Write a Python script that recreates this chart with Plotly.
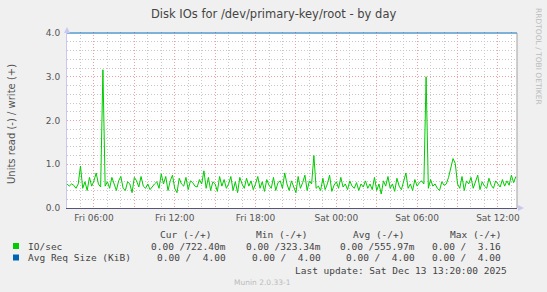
import plotly.graph_objects as go
import pandas as pd

# ---------------- data ----------------
start_time = "2025-12-12 04:00"
step_minutes = 10
io_write = [
    0.55, 0.50, 0.55, 0.52, 0.45, 0.55, 0.96, 0.45, 0.60, 0.40, 0.70, 0.50,
    0.62, 0.80, 0.55, 0.48, 3.16, 0.50, 0.60, 0.45, 0.70, 0.55, 0.40, 0.62,
    0.72, 0.45, 0.40, 0.60, 0.55, 0.35, 0.70, 0.62, 0.48, 0.72, 0.50, 0.45,
    0.55, 0.42, 0.50, 0.55, 0.60, 0.45, 0.78, 0.55, 0.72, 0.40, 0.62, 0.75,
    0.45, 0.35, 0.68, 0.55, 0.50, 0.70, 0.42, 0.62, 0.58, 0.50, 0.48, 0.65,
    0.55, 0.85, 0.45, 0.70, 0.40, 0.60, 0.55, 0.38, 0.72, 0.50, 0.65, 0.45,
    0.55, 0.72, 0.40, 0.60, 0.35, 0.70, 0.55, 0.45, 0.68, 0.50, 0.62, 0.42,
    0.55, 0.72, 0.45, 0.60, 0.38, 0.65, 0.52, 0.45, 0.70, 0.40, 0.58, 0.62,
    0.45, 0.80, 0.55, 0.40, 0.62, 0.50, 0.35, 0.72, 0.45, 0.58, 0.75, 0.40,
    0.62, 0.55, 1.20, 0.45, 0.50, 0.40, 0.68, 0.42, 0.55, 0.75, 0.38, 0.52,
    0.60, 0.45, 0.70, 0.48, 0.55, 0.42, 0.62, 0.50, 0.45, 0.58, 0.40, 0.55,
    0.48, 0.62, 0.45, 0.55, 0.42, 0.70, 0.40, 0.55, 0.32, 0.62, 0.50, 0.72,
    0.45, 0.55, 0.38, 0.68, 0.50, 0.42, 0.60, 0.80, 0.45, 0.55, 0.40, 0.65,
    0.50, 0.58, 0.62, 0.55, 3.00, 0.45, 0.65, 0.50, 0.55, 0.45, 0.40, 0.60,
    0.52, 0.55, 0.70, 0.95, 1.13, 1.02, 0.55, 0.45, 0.72, 0.40, 0.62, 0.55,
    0.70, 0.45, 0.58, 0.75, 0.42, 0.60, 0.50, 0.45, 0.68, 0.52, 0.45, 0.62,
    0.55, 0.48, 0.65, 0.50, 0.62, 0.52, 0.75, 0.58, 0.72,
]
req_size_write = [4.00, 4.00]
req_size_times = ["2025-12-12 04:00", "2025-12-13 13:25"]

x_range = ["2025-12-12 04:00", "2025-12-13 13:25"]
major_ticks = ["2025-12-12 06:00", "2025-12-12 09:00", "2025-12-12 12:00",
               "2025-12-12 15:00", "2025-12-12 18:00", "2025-12-12 21:00",
               "2025-12-13 00:00", "2025-12-13 03:00", "2025-12-13 06:00",
               "2025-12-13 09:00", "2025-12-13 12:00"]
major_labels = ["Fri 06:00", "", "Fri 12:00", "", "Fri 18:00", "",
                "Sat 00:00", "", "Sat 06:00", "", "Sat 12:00"]
y_ticks = [0, 1, 2, 3, 4]
y_labels = ["0.0", "1.0", "2.0", "3.0", "4.0"]

title = "Disk IOs for /dev/primary-key/root - by day"
y_title = "Units read (-) / write (+)"
legend_header = ["Cur (-/+)", "Min (-/+)", "Avg (-/+)", "Max (-/+)"]
legend_names = ["IO/sec", "Avg Req Size (KiB)"]
legend_colors = ["#00CC00", "#0066B3"]
legend_values = [
    ["0.00 /722.40m", "0.00 /323.34m", "0.00 /555.97m", "0.00 /  3.16"],
    ["0.00 /  4.00", "0.00 /  4.00", "0.00 /  4.00", "0.00 /  4.00"],
]
last_update = "Last update: Sat Dec 13 13:20:00 2025"
munin_ver = "Munin 2.0.33-1"
rrd_credit = "RRDTOOL / TOBI OETIKER"

times = pd.date_range(start_time, periods=len(io_write), freq=f"{step_minutes}min")

# ---------------- layout geometry (pixels) ----------------
W, H = 547, 292
L, R, T, B = 67, 30, 32, 84
PW, PH = W - L - R, H - T - B


def px(xp):
    return (xp - L) / PW


def py(yp):
    return (H - B - yp) / PH


fig = go.Figure()
fig.add_trace(go.Scatter(x=times, y=io_write, mode="lines",
                         line=dict(color=legend_colors[0], width=1),
                         hoverinfo="skip", showlegend=False))
fig.add_trace(go.Scatter(x=pd.to_datetime(req_size_times), y=req_size_write, mode="lines",
                         line=dict(color=legend_colors[1], width=1.2),
                         hoverinfo="skip", showlegend=False))

ytop = 4.0 * PH / 175.0
dots = "1px,2px"

fig.update_layout(
    width=W, height=H, autosize=False,
    margin=dict(l=L, r=R, t=T, b=B, pad=0),
    paper_bgcolor="#F0F0F0", plot_bgcolor="#FFFFFF",
    font=dict(family="DejaVu Sans", size=9, color="#555555"),
    xaxis=dict(
        type="date", range=x_range,
        tickmode="array", tickvals=major_ticks, ticktext=major_labels,
        showgrid=True, gridcolor="#F0A0A0", griddash=dots, gridwidth=1,
        minor=dict(dtick=3600000, showgrid=True, gridcolor="#C8C8C8",
                   griddash=dots, gridwidth=1),
        ticks="", showline=True, linecolor="#555577", linewidth=1,
        zeroline=False, tickfont=dict(size=9, color="#555555"),
        ticklabelstandoff=1,
    ),
    yaxis=dict(
        range=[0, ytop],
        tickmode="array", tickvals=y_ticks, ticktext=y_labels,
        showgrid=True, gridcolor="#F0A0A0", griddash=dots, gridwidth=1,
        minor=dict(dtick=0.2, showgrid=True, gridcolor="#C8C8C8",
                   griddash=dots, gridwidth=1),
        ticks="", showline=True, linecolor="#C8C8F0", linewidth=1,
        zeroline=False, tickfont=dict(size=9, color="#555555"),
        ticklabelstandoff=4,
    ),
)

shapes = []
# right frame
shapes.append(dict(type="line", xref="paper", yref="paper", x0=1, x1=1,
                   y0=0, y1=py(33), line=dict(color="#A0A0A0", width=1)))
# axis arrows
shapes.append(dict(type="path", xref="paper", yref="paper",
                   path=f"M {px(64)} {py(33)} L {px(70)} {py(33)} L {px(67)} {py(27)} Z",
                   fillcolor="#C8C8F0", line=dict(width=0)))
shapes.append(dict(type="path", xref="paper", yref="paper",
                   path=f"M {px(518)} {py(205)} L {px(518)} {py(211)} L {px(524)} {py(208)} Z",
                   fillcolor="#C8C8F0", line=dict(width=0)))
# legend squares
for i, c in enumerate(legend_colors):
    yc = 246 + i * 11.5
    shapes.append(dict(type="rect", xref="paper", yref="paper",
                       x0=px(13), x1=px(19), y0=py(yc + 3), y1=py(yc - 3),
                       fillcolor=c, line=dict(width=0)))
fig.update_layout(shapes=shapes)

ann = []
ann.append(dict(text=title, xref="paper", yref="paper", x=px(273), y=py(14),
                xanchor="center", yanchor="middle", showarrow=False,
                font=dict(family="DejaVu Sans", size=11.5, color="#444444")))
ann.append(dict(text=y_title, xref="paper", yref="paper", x=px(11), y=py(124),
                xanchor="center", yanchor="middle", showarrow=False, textangle=-90,
                font=dict(family="DejaVu Sans", size=10, color="#555555")))
ann.append(dict(text=rrd_credit, xref="paper", yref="paper", x=px(539), y=py(56),
                xanchor="center", yanchor="middle", showarrow=False, textangle=90,
                font=dict(family="DejaVu Sans", size=7.5, color="#BBBBBB")))

mono = "DejaVu Sans Mono"
fs = 9.5
header_ends = [213, 309, 406, 503]
value_ends = [228, 323, 417, 503]
for h, xe in zip(legend_header, header_ends):
    ann.append(dict(text=h, xref="paper", yref="paper", x=px(xe), y=py(234),
                    xanchor="right", yanchor="middle", showarrow=False,
                    font=dict(family=mono, size=fs, color="#444444")))
for i, name in enumerate(legend_names):
    yc = 246 + i * 11.5
    ann.append(dict(text=name, xref="paper", yref="paper", x=px(25.5), y=py(yc),
                    xanchor="left", yanchor="middle", showarrow=False,
                    font=dict(family=mono, size=fs, color="#444444")))
    for v, xe in zip(legend_values[i], value_ends):
        ann.append(dict(text=v.replace(" ", "\u00a0"), xref="paper", yref="paper",
                        x=px(xe), y=py(yc), xanchor="right", yanchor="middle",
                        showarrow=False,
                        font=dict(family=mono, size=fs, color="#444444")))
ann.append(dict(text=last_update.replace(" ", "\u00a0"), xref="paper", yref="paper",
                x=px(509), y=py(270), xanchor="right", yanchor="middle",
                showarrow=False, font=dict(family=mono, size=fs, color="#444444")))
ann.append(dict(text=munin_ver, xref="paper", yref="paper", x=px(262), y=py(282),
                xanchor="center", yanchor="middle", showarrow=False,
                font=dict(family="DejaVu Sans", size=7.5, color="#BBBBBB")))
fig.update_layout(annotations=ann)

fig.write_html("out.html")
